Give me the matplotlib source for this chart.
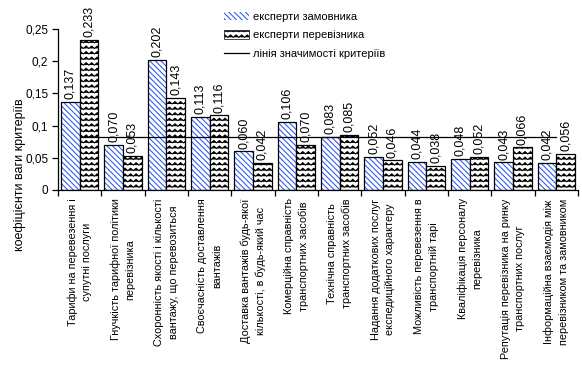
import numpy as np
import matplotlib
matplotlib.use("Agg")
import matplotlib.pyplot as plt
import matplotlib.hatch as mhatch
from matplotlib.patches import Rectangle
from matplotlib.lines import Line2D
import warnings
warnings.filterwarnings("ignore")

plt.rcParams['font.family'] = ['Liberation Sans', 'DejaVu Sans']
plt.rcParams['hatch.linewidth'] = 0.75


class ZigZagHatch(mhatch.HatchPatternBase):
    def __init__(self, hatch, density):
        self.num_lines = int(hatch.count('z') * density)
        self.periods = self.num_lines
        self.pts = 2 * self.periods + 1
        self.num_vertices = self.num_lines * self.pts

    def set_vertices_and_codes(self, vertices, codes):
        n = self.num_lines
        step = 1.0 / n
        amp = step * 0.22
        xs = np.linspace(0, 1, self.pts)
        offs = np.where(np.arange(self.pts) % 2 == 0, -amp, amp)
        idx = 0
        for i in range(n):
            y0 = (i + 0.5) * step
            vertices[idx:idx + self.pts, 0] = xs
            vertices[idx:idx + self.pts, 1] = y0 + offs
            codes[idx] = 1  # MOVETO
            codes[idx + 1:idx + self.pts] = 2  # LINETO
            idx += self.pts


mhatch._hatch_types.append(ZigZagHatch)

categories = [
    "Тарифи на перевезення і\nсупутні послуги",
    "Гнучкість тарифної політики\nперевізника",
    "Схоронність якості і кількості\nвантажу, що перевозиться",
    "Своєчасність доставлення\nвантажів",
    "Доставка вантажів будь-якої\nкількості, в будь-який час",
    "Комерційна справність\nтранспортних засобів",
    "Технічна справність\nтранспортних засобів",
    "Надання додаткових послуг\nекспедиційного характеру",
    "Можливість перевезення в\nтранспортній тарі",
    "Кваліфікація персоналу\nперевізника",
    "Репутація перевізника на ринку\nтранспортних послуг",
    "Інформаційна взаємодія між\nперевізником та замовником",
]
customer = [0.137, 0.070, 0.202, 0.113, 0.060, 0.106, 0.083, 0.052, 0.044, 0.048, 0.043, 0.042]
carrier = [0.233, 0.053, 0.143, 0.116, 0.042, 0.070, 0.085, 0.046, 0.038, 0.052, 0.066, 0.056]
threshold = 0.083
series_names = ["експерти замовника", "експерти перевізника", "лінія значимості критеріїв"]
yticks = [0, 0.05, 0.1, 0.15, 0.2, 0.25]
ytick_labels = ["0", "0,05", "0,1", "0,15", "0,2", "0,25"]

W, H = 582, 367
fig = plt.figure(figsize=(W / 100, H / 100), dpi=100)
ax = fig.add_axes([58 / W, 1 - 190 / H, 520 / W, 161 / H])

n = len(categories)
x = np.arange(n)
bw = 0.43
blue = "#2a55f5"
blue_hatch = "\\\\\\\\\\\\"
zig_hatch = "zzz"

# customer bars: blue hatch, then black outline
ax.bar(x - bw / 2, customer, bw, color="white", edgecolor=blue, hatch=blue_hatch, linewidth=0)
ax.bar(x - bw / 2, customer, bw, fill=False, edgecolor="black", linewidth=0.9)
# carrier bars: zigzag hatch
ax.bar(x + bw / 2, carrier, bw, color="white", edgecolor="black", hatch=zig_hatch, linewidth=0.9)

ax.plot([x[0], x[-1]], [threshold, threshold], color="black", linewidth=0.9)

for xi, v in zip(x - bw / 2, customer):
    ax.annotate(("%.3f" % v).replace(".", ","), (xi, v), xytext=(0, 2), textcoords="offset points",
                rotation=90, ha="center", va="bottom", fontsize=9)
for xi, v in zip(x + bw / 2, carrier):
    ax.annotate(("%.3f" % v).replace(".", ","), (xi, v), xytext=(0, 2), textcoords="offset points",
                rotation=90, ha="center", va="bottom", fontsize=9)

ax.set_xlim(-0.5, n - 0.5)
ax.set_ylim(0, 0.25)
ax.set_yticks(yticks)
ax.set_yticklabels(ytick_labels, fontsize=8.5)
ax.set_xticks(np.arange(n + 1) - 0.5)
ax.set_xticklabels([])
ax.tick_params(axis="both", direction="out", length=4, width=0.9, colors="black")
ax.tick_params(axis="y", pad=3)
for s in ["top", "right"]:
    ax.spines[s].set_visible(False)
for s in ["left", "bottom"]:
    ax.spines[s].set_linewidth(0.9)

for xi, lab in zip(x, categories):
    ax.annotate(lab, (xi, 0), xytext=(0, -6), textcoords="offset points",
                rotation=90, ha="center", va="top", multialignment="center",
                fontsize=7.8, linespacing=1.55, annotation_clip=False)

fig.text(20 / W, 1 - 175 / H, "коефіцієнти ваги критеріїв", rotation=90,
         ha="center", va="center", fontsize=9)

h1 = Rectangle((0, 0), 1, 1, facecolor="white", edgecolor=blue, hatch=blue_hatch, linewidth=0)
h2 = Rectangle((0, 0), 1, 1, facecolor="white", edgecolor="black", hatch=zig_hatch, linewidth=0.5)
h3 = Line2D([0], [0], color="black", linewidth=0.9)
fig.legend([h1, h2, h3], series_names, loc="upper left",
           bbox_to_anchor=(216 / W, 1 - 4 / H), frameon=False, fontsize=8,
           handlelength=2.3, handleheight=0.8, handletextpad=0.3, labelspacing=0.75,
           borderpad=0.2)

fig.savefig("out.png", dpi=100)
